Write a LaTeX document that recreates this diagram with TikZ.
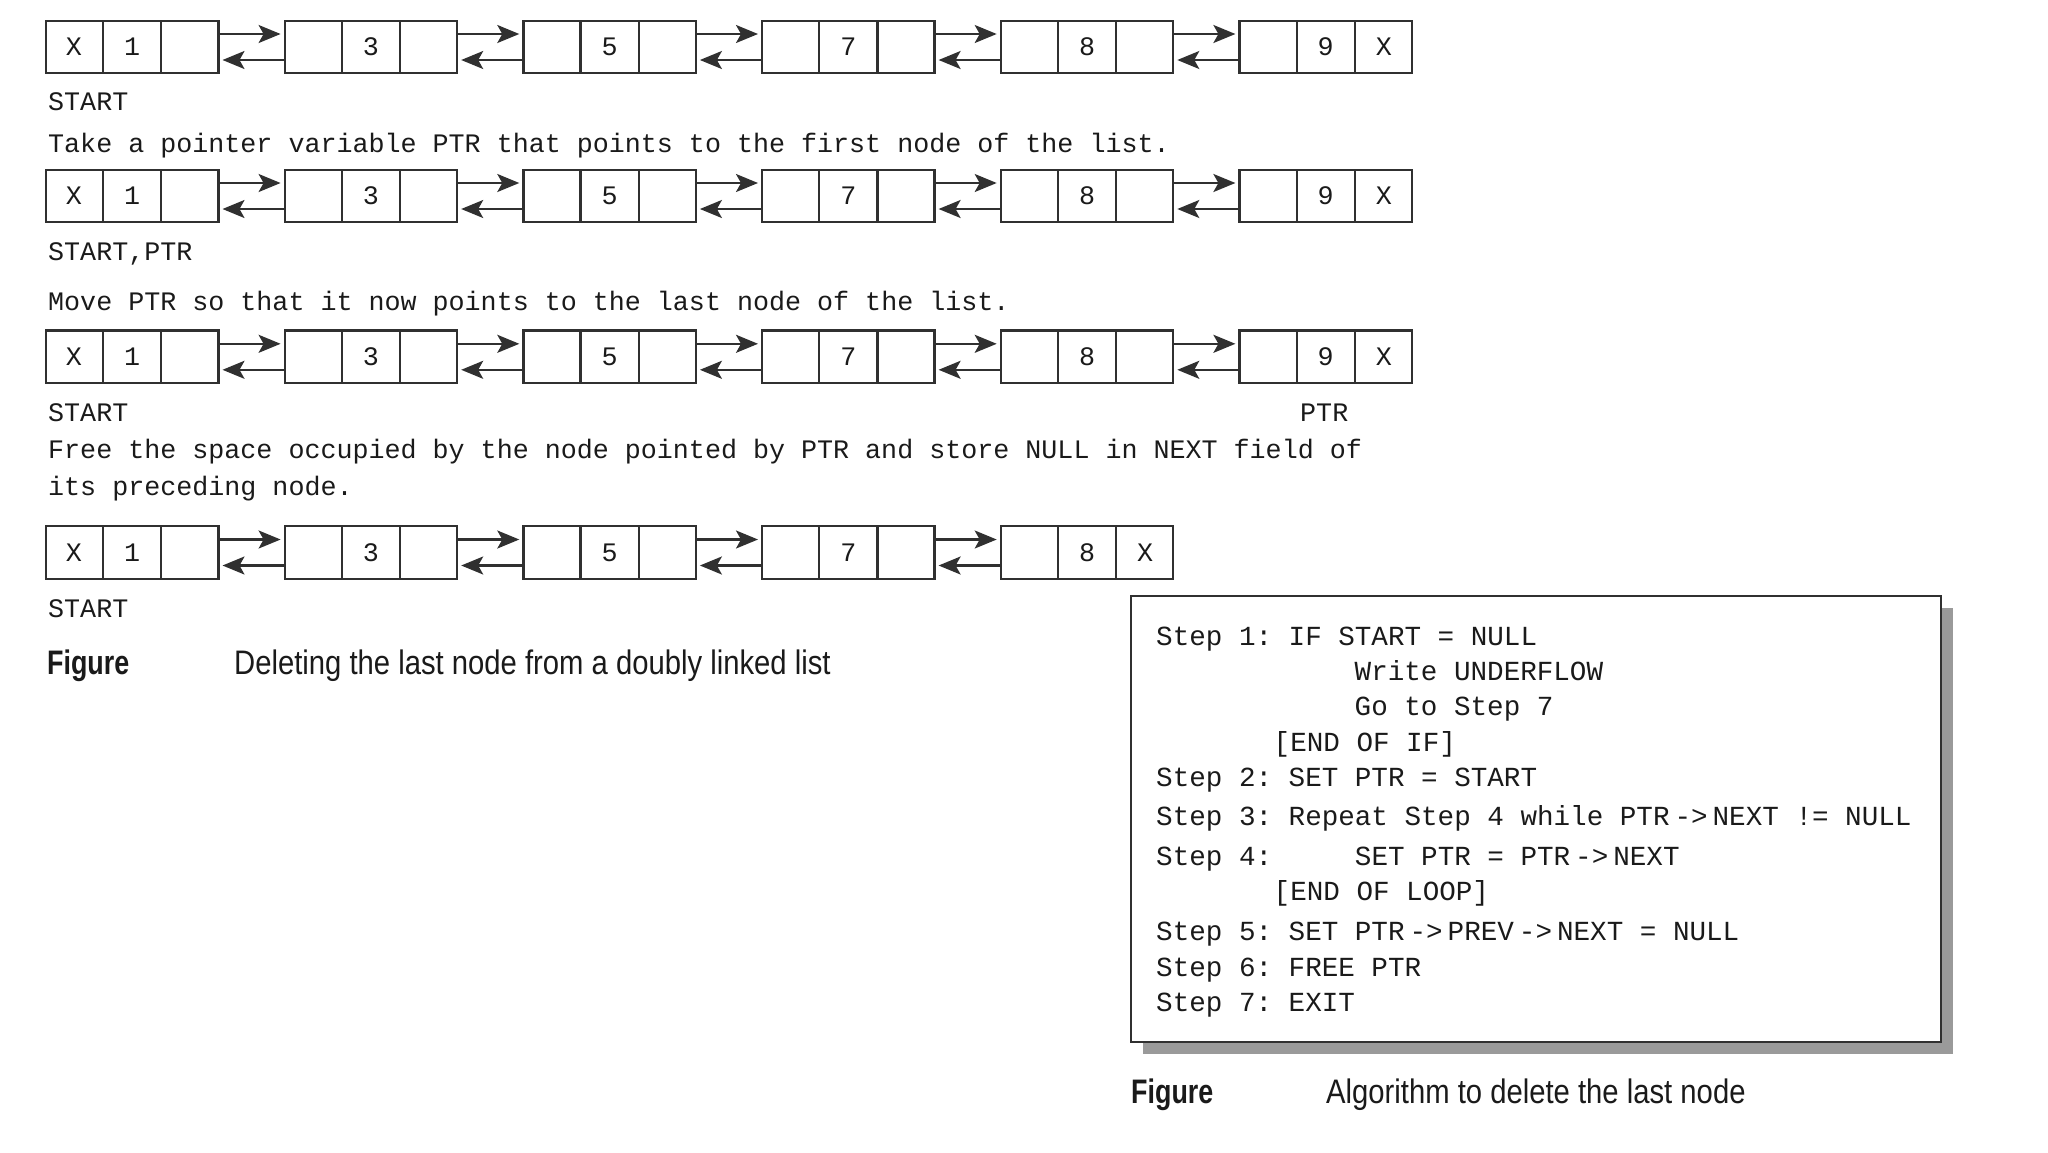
\documentclass[tikz,border=0pt]{standalone}
\usepackage{fontspec}
\setmonofont{Liberation Mono}
\newfontfamily\capfont[FakeStretch=0.86]{Liberation Sans}
\newfontfamily\figfont[FakeStretch=0.79]{Liberation Sans}
\usetikzlibrary{shapes.multipart,arrows.meta,shadows}

\definecolor{linegray}{HTML}{303030}
\definecolor{textblack}{HTML}{1A1A1A}
\definecolor{shadowgray}{HTML}{9A9A9A}

\newcommand\cell[1]{\makebox[56pt]{\rule[-17.5pt]{0pt}{52.5pt}#1}}
\newcommand\pto{\kern5pt->\kern5pt}

\tikzset{
	lnode/.style={rectangle split, rectangle split horizontal, rectangle split parts=3,
		draw=linegray, line width=2.2pt, inner sep=0pt, text=textblack,
		font=\ttfamily\fontsize{26.7}{30}\selectfont},
	nextlink/.style={draw=linegray, line width=2.2pt,
		-{Stealth[length=22pt,width=18pt,inset=5pt]}, shorten >=3pt},
	txt/.style={anchor=base west, inner sep=0pt, text=textblack,
		font=\ttfamily\fontsize{26.7}{30}\selectfont},
	algo/.style={anchor=base west, inner sep=0pt, text=textblack,
		font=\ttfamily\fontsize{27.6}{30}\selectfont},
	algobox/.style={draw=linegray, line width=2.2pt, fill=white, minimum width=810pt,
		minimum height=446pt, inner sep=0pt,
		drop shadow={shadow xshift=12pt, shadow yshift=-12pt, fill=shadowgray, opacity=1}},
	fig/.style={anchor=base west, inner sep=0pt, text=textblack,
		font=\figfont\bfseries\fontsize{34}{38}\selectfont},
	capt/.style={anchor=base west, inner sep=0pt, text=textblack,
		font=\capfont\fontsize{34}{38}\selectfont}
}

\begin{document}
\begin{tikzpicture}[x=1pt, y=-1pt]
	\useasboundingbox (0,0) rectangle (2048,1152);

	% the three lists before deletion
	\foreach \r/\y in {1/47, 2/196, 3/356.8}{
		\foreach \a/\v/\b [count=\k from 0] in {X/1/{}, {}/3/{}, {}/5/{}, {}/7/{}, {}/8/{}, {}/9/X}{
			\node[lnode] (r\r-\k) at (132.2+238.7*\k,\y)
				{\cell{\a}\nodepart{two}\cell{\v}\nodepart{three}\cell{\b}};
		}
		\foreach \k [evaluate=\k as \j using int(\k+1)] in {0,...,4}{
			\draw[nextlink] ([yshift=13pt]r\r-\k.east) -- ([yshift=13pt]r\r-\j.west);
			\draw[nextlink] ([yshift=-13pt]r\r-\j.west) -- ([yshift=-13pt]r\r-\k.east);
		}
	}

	% list after deletion
	\foreach \a/\v/\b [count=\k from 0] in {X/1/{}, {}/3/{}, {}/5/{}, {}/7/{}, {}/8/X}{
		\node[lnode] (r4-\k) at (132.2+238.7*\k,552.5)
			{\cell{\a}\nodepart{two}\cell{\v}\nodepart{three}\cell{\b}};
	}
	\foreach \k [evaluate=\k as \j using int(\k+1)] in {0,...,3}{
		\draw[nextlink] ([yshift=13pt]r4-\k.east) -- ([yshift=13pt]r4-\j.west);
		\draw[nextlink] ([yshift=-13pt]r4-\j.west) -- ([yshift=-13pt]r4-\k.east);
	}

	\node[txt] (start1) at (48,110) {START};
	\node[txt] (take) at (48,152.5) {Take a pointer variable PTR that points to the first node of the list.};
	\node[txt] (start2) at (48,260) {START,PTR};
	\node[txt] (move) at (48,310) {Move PTR so that it now points to the last node of the list.};
	\node[txt] (start3) at (48,421.5) {START};
	\node[txt] (ptr3) at (1300,421.5) {PTR};
	\node[txt] (free1) at (48,458) {Free the space occupied by the node pointed by PTR and store NULL in NEXT field of};
	\node[txt] (free2) at (48,495) {its preceding node.};
	\node[txt] (start4) at (48,617) {START};

	\node[fig] (fig1) at (47,674.5) {Figure};
	\node[capt] (cap1) at (234,674.5) {Deleting the last node from a doubly linked list};

	% algorithm
	\node[algobox] (box) at (1536,819) {};
	\node[algo] (s1) at (1156,645) {Step 1: IF START = NULL};
	\node[algo] (s1a) at (1354.5,680) {Write UNDERFLOW};
	\node[algo] (s1b) at (1354.5,715) {Go to Step 7};
	\node[algo] (s1c) at (1273.5,751.7) {[END OF IF]};
	\node[algo] (s2) at (1156,786.7) {Step 2: SET PTR = START};
	\node[algo] (s3) at (1156,825) {Step 3: Repeat Step 4 while PTR\pto NEXT != NULL};
	\node[algo] (s4) at (1156,865) {Step 4:\hspace{3em}SET PTR = PTR\pto NEXT};
	\node[algo] (s4a) at (1273.5,900) {[END OF LOOP]};
	\node[algo] (s5) at (1156,940) {Step 5: SET PTR\pto PREV\pto NEXT = NULL};
	\node[algo] (s6) at (1156,976.7) {Step 6: FREE PTR};
	\node[algo] (s7) at (1156,1011.7) {Step 7: EXIT};

	\node[fig] (fig2) at (1131,1103) {Figure};
	\node[capt] (cap2) at (1326,1103) {Algorithm to delete the last node};
\end{tikzpicture}
\end{document}
